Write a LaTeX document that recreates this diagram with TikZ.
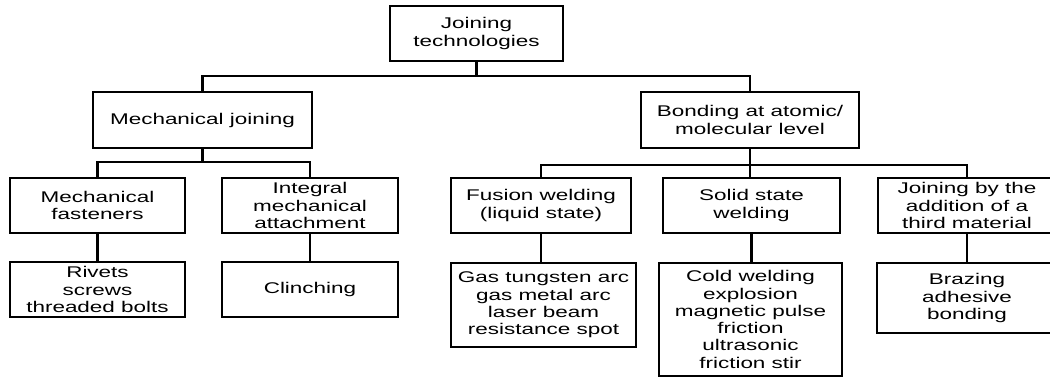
\documentclass[tikz,border=0pt]{standalone}
\usepackage{fontspec}
\setmainfont{Liberation Sans}[FakeStretch=1.45]
\usepackage{tikz}
\usetikzlibrary{positioning}

\newcommand{\boxfont}{\fontsize{15.5}{17.3}\selectfont}
\tikzset{
  treebox/.style={draw, line width=2.2pt, align=center, inner sep=0pt, font=\boxfont},
  link/.style={line width=2.2pt}
}

\begin{document}
\begin{tikzpicture}[x=1pt, y=-1pt]
        \useasboundingbox (0,0) rectangle (1050,377);

        \node[treebox, minimum width=173pt, minimum height=55pt] (root) at (476.5,33.5) {Joining\\technologies} ;

        \node[treebox, minimum width=219pt, minimum height=56pt] (mech) at (202.5,120) {Mechanical joining} ;
        \node[treebox, minimum width=218pt, minimum height=56pt] (bond) at (750,120) {Bonding at atomic/\\molecular level} ;

        \node[treebox, minimum width=175pt, minimum height=55pt] (fast) at (97.5,205.5) {Mechanical\\fasteners} ;
        \node[treebox, minimum width=176pt, minimum height=55pt] (integ) at (310,205.5) {Integral\\mechanical\\attachment} ;
        \node[treebox, minimum width=180pt, minimum height=55pt] (fus) at (541,205.5) {Fusion welding\\(liquid state)} ;
        \node[treebox, minimum width=177pt, minimum height=55pt] (solid) at (751.5,205.5) {Solid state\\welding} ;
        \node[treebox, minimum width=178pt, minimum height=55pt] (third) at (967,205.5) {Joining by the\\addition of a\\third material} ;

        \node[treebox, minimum width=175pt, minimum height=55pt] (rivet) at (97.5,289.5) {Rivets\\screws\\threaded bolts} ;
        \node[treebox, minimum width=176pt, minimum height=55pt] (clinch) at (310,289.5) {Clinching} ;
        \node[treebox, minimum width=185pt, minimum height=84pt] (gas) at (543.5,305) {Gas tungsten arc\\gas metal arc\\laser beam\\resistance spot} ;
        \node[treebox, minimum width=183pt, minimum height=113pt] (cold) at (750.5,319.5) {Cold welding\\explosion\\magnetic pulse\\friction\\ultrasonic\\friction stir} ;
        \node[treebox, minimum width=180pt, minimum height=70pt] (braz) at (967,298) {Brazing\\adhesive\\bonding} ;

        \draw[link] (root.south) -- ++(0,14) -| (mech.north) ;
        \draw[link] (root.south) -- ++(0,14) -| (bond.north) ;
        \draw[link] (mech.south) -- ++(0,13) -| (fast.north) ;
        \draw[link] (mech.south) -- ++(0,13) -| (integ.north) ;
        \draw[link] (bond.south) -- ++(0,16) -| (fus.north) ;
        \draw[link] (bond.south) -- ++(0,16) -| (third.north) ;
        \draw[link] (bond.south) -- (bond.south |- solid.north) ;
        \draw[link] (fast) -- (rivet) ;
        \draw[link] (integ) -- (clinch) ;
        \draw[link] (fus.south) -- (fus.south |- gas.north) ;
        \draw[link] (solid.south) -- (solid.south |- cold.north) ;
        \draw[link] (third) -- (braz) ;
    \end{tikzpicture}
\end{document}
